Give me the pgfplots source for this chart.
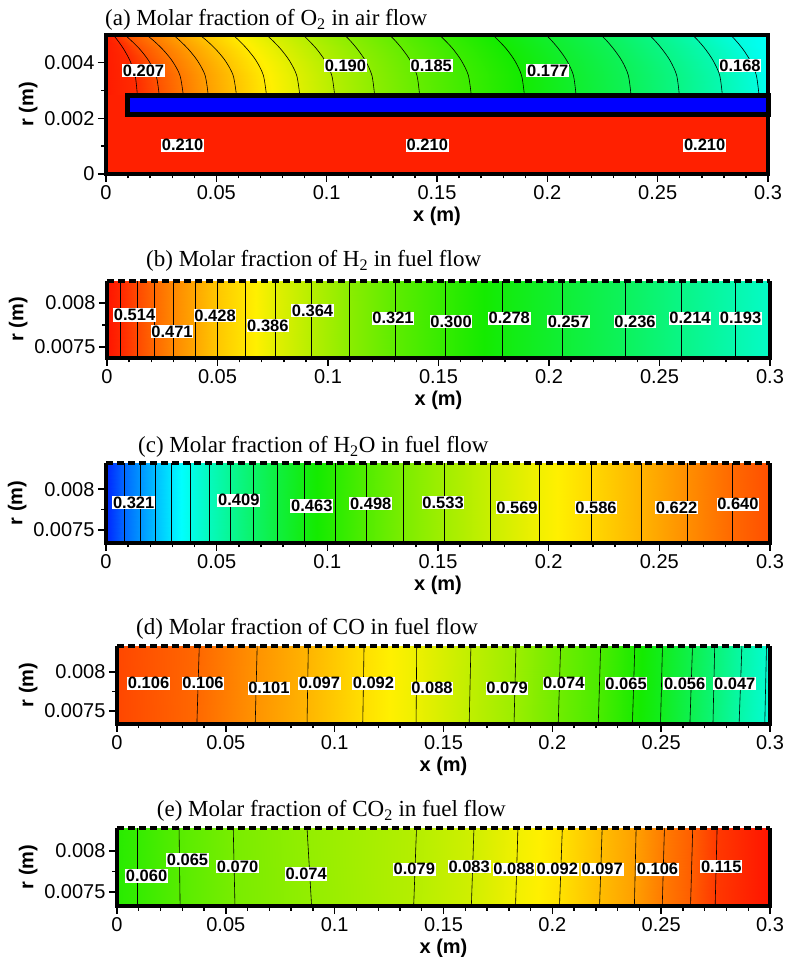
\documentclass[border=0pt]{standalone}
\usepackage{fontspec}
\setmainfont{Liberation Serif}
\setsansfont{Liberation Sans}
\usepackage{pgfplots}
\pgfplotsset{compat=1.18}

\pgfplotsset{
  colormap={cmA}{rgb255(151pt)=(0,0,255) rgb255(166pt)=(0,255,255) rgb255(181pt)=(20,235,0) rgb255(196pt)=(255,240,0) rgb255(211pt)=(255,20,0)},
  colormap={cmB}{rgb255(15pt)=(0,0,255) rgb255(150pt)=(0,255,255) rgb255(285pt)=(20,235,0) rgb255(400pt)=(255,240,0) rgb255(550pt)=(255,20,0)},
  colormap={cmC}{rgb255(260pt)=(0,0,255) rgb255(365pt)=(0,255,255) rgb255(470pt)=(20,235,0) rgb255(575pt)=(255,240,0) rgb255(680pt)=(255,20,0)},
  colormap={cmD}{rgb255(12pt)=(0,0,255) rgb255(38pt)=(0,255,255) rgb255(64pt)=(20,235,0) rgb255(90pt)=(255,240,0) rgb255(116pt)=(255,20,0)},
  colormap={cmE}{rgb255(0pt)=(0,0,255) rgb255(25pt)=(0,255,255) rgb255(55pt)=(20,235,0) rgb255(90pt)=(255,240,0) rgb255(120pt)=(255,20,0)},
  panel/.style={
    scale only axis, clip=false, anchor=south west,
    axis x line*=bottom, axis y line*=left,
    xmin=0, xmax=0.3,
    xtick={0,0.05,0.1,0.15,0.2,0.25,0.3},
    xticklabels={0,0.05,0.1,0.15,0.2,0.25,0.3},
    minor x tick num=4, minor y tick num=1,
    tick align=outside,
    major tick length=8bp, minor tick length=4.5bp,
    every tick/.append style={black, line width=1.4bp},
    axis line style={line width=3bp},
    tick label style={font=\fontsize{20bp}{24bp}\selectfont\sffamily},
    label style={font=\fontsize{20bp}{24bp}\selectfont\sffamily\bfseries},
    xlabel={x (m)}, ylabel={r (m)},
    scaled ticks=false,
  },
  lab/.style={draw=none, nodes near coords, point meta=explicit symbolic,
    nodes near coords align={center},
    every node near coord/.append style={font=\fontsize{16.5bp}{19bp}\selectfont\sffamily\bfseries, fill=white, inner sep=0.7bp, text=black}},
  cline/.style={black, line width=0.6bp},
  fuel/.style={panel, ytick={0.0075,0.008}, yticklabels={0.0075,0.008}},
}
\newcommand\ttl{\fontsize{23bp}{27bp}\selectfont\rmfamily}

\begin{document}
\begin{tikzpicture}
\path[use as bounding box] (0,0) rectangle (786bp,957bp);

% ---------------- (a) ----------------
\begin{axis}[panel, at={(106bp,783bp)}, width=662bp, height=139bp,
  ymin=0, ymax=0.005, ytick={0,0.002,0.004}, yticklabels={0,0.002,0.004},
  colormap name=cmA, point meta min=0.151, point meta max=0.211]
\addplot[draw=none, fill={rgb,255:red,255;green,32;blue,0}] coordinates {(0,0) (0.3,0) (0.3,0.0029) (0,0.0029)} -- cycle;
\addplot[surf, shader=interp, mesh/cols=19, point meta=explicit] table[meta=c] {
x y c
0 0.00285 0.2105
0.0142 0.00285 0.2094
0.0241 0.00285 0.2068
0.0350 0.00285 0.2042
0.0463 0.00285 0.2016
0.0591 0.00285 0.1991
0.0727 0.00285 0.1965
0.0878 0.00285 0.1939
0.1036 0.00285 0.1913
0.1217 0.00285 0.1887
0.1421 0.00285 0.1861
0.1655 0.00285 0.1835
0.1896 0.00285 0.1809
0.2130 0.00285 0.1783
0.2379 0.00285 0.1758
0.2598 0.00285 0.1732
0.2793 0.00285 0.1706
0.2959 0.00285 0.1680
0.3 0.00285 0.1665
0 0.003551 0.2105
0.0132 0.003551 0.2094
0.0227 0.003551 0.2068
0.0335 0.003551 0.2042
0.0449 0.003551 0.2016
0.0576 0.003551 0.1991
0.0713 0.003551 0.1965
0.0864 0.003551 0.1939
0.1023 0.003551 0.1913
0.1205 0.003551 0.1887
0.1409 0.003551 0.1861
0.1642 0.003551 0.1835
0.1883 0.003551 0.1809
0.2118 0.003551 0.1783
0.2367 0.003551 0.1758
0.2586 0.003551 0.1732
0.2781 0.003551 0.1706
0.2947 0.003551 0.1680
0.3 0.003551 0.1665
0 0.004069 0.2105
0.0109 0.004069 0.2094
0.0194 0.004069 0.2068
0.0300 0.004069 0.2042
0.0415 0.004069 0.2016
0.0541 0.004069 0.1991
0.0681 0.004069 0.1965
0.0832 0.004069 0.1939
0.0993 0.004069 0.1913
0.1176 0.004069 0.1887
0.1380 0.004069 0.1861
0.1611 0.004069 0.1835
0.1853 0.004069 0.1809
0.2089 0.004069 0.1783
0.2338 0.004069 0.1758
0.2557 0.004069 0.1732
0.2752 0.004069 0.1706
0.2920 0.004069 0.1680
0.3 0.004069 0.1665
0 0.0044825 0.2105
0.0081 0.0044825 0.2094
0.0154 0.0044825 0.2068
0.0257 0.0044825 0.2042
0.0374 0.0044825 0.2016
0.0498 0.0044825 0.1991
0.0641 0.0044825 0.1965
0.0793 0.0044825 0.1939
0.0956 0.0044825 0.1913
0.1140 0.0044825 0.1887
0.1344 0.0044825 0.1861
0.1574 0.0044825 0.1835
0.1816 0.0044825 0.1809
0.2053 0.0044825 0.1783
0.2302 0.0044825 0.1758
0.2521 0.0044825 0.1732
0.2717 0.0044825 0.1706
0.2887 0.0044825 0.1680
0.3 0.0044825 0.1665
0 0.004793 0.2105
0.0054 0.004793 0.2094
0.0115 0.004793 0.2068
0.0216 0.004793 0.2042
0.0335 0.004793 0.2016
0.0457 0.004793 0.1991
0.0604 0.004793 0.1965
0.0756 0.004793 0.1939
0.0920 0.004793 0.1913
0.1107 0.004793 0.1887
0.1311 0.004793 0.1861
0.1538 0.004793 0.1835
0.1780 0.004793 0.1809
0.2020 0.004793 0.1783
0.2269 0.004793 0.1758
0.2488 0.004793 0.1732
0.2684 0.004793 0.1706
0.2855 0.004793 0.1680
0.3 0.004793 0.1665
0 0.005 0.2105
0.0033 0.005 0.2094
0.0086 0.005 0.2068
0.0184 0.005 0.2042
0.0305 0.005 0.2016
0.0425 0.005 0.1991
0.0575 0.005 0.1965
0.0727 0.005 0.1939
0.0893 0.005 0.1913
0.1081 0.005 0.1887
0.1285 0.005 0.1861
0.1511 0.005 0.1835
0.1753 0.005 0.1809
0.1994 0.005 0.1783
0.2243 0.005 0.1758
0.2462 0.005 0.1732
0.2658 0.005 0.1706
0.2831 0.005 0.1680
0.3 0.005 0.1665
};
\addplot[cline, smooth, unbounded coords=jump] coordinates {
(0.0142,0.00285) (0.0132,0.003551) (0.0109,0.004069) (0.0081,0.0044825) (0.0054,0.004793) (0.0033,0.005) (nan,nan)
(0.0241,0.00285) (0.0227,0.003551) (0.0194,0.004069) (0.0154,0.0044825) (0.0115,0.004793) (0.0086,0.005) (nan,nan)
(0.0350,0.00285) (0.0335,0.003551) (0.0300,0.004069) (0.0257,0.0044825) (0.0216,0.004793) (0.0184,0.005) (nan,nan)
(0.0463,0.00285) (0.0449,0.003551) (0.0415,0.004069) (0.0374,0.0044825) (0.0335,0.004793) (0.0305,0.005) (nan,nan)
(0.0591,0.00285) (0.0576,0.003551) (0.0541,0.004069) (0.0498,0.0044825) (0.0457,0.004793) (0.0425,0.005) (nan,nan)
(0.0727,0.00285) (0.0713,0.003551) (0.0681,0.004069) (0.0641,0.0044825) (0.0604,0.004793) (0.0575,0.005) (nan,nan)
(0.0878,0.00285) (0.0864,0.003551) (0.0832,0.004069) (0.0793,0.0044825) (0.0756,0.004793) (0.0727,0.005) (nan,nan)
(0.1036,0.00285) (0.1023,0.003551) (0.0993,0.004069) (0.0956,0.0044825) (0.0920,0.004793) (0.0893,0.005) (nan,nan)
(0.1217,0.00285) (0.1205,0.003551) (0.1176,0.004069) (0.1140,0.0044825) (0.1107,0.004793) (0.1081,0.005) (nan,nan)
(0.1421,0.00285) (0.1409,0.003551) (0.1380,0.004069) (0.1344,0.0044825) (0.1311,0.004793) (0.1285,0.005) (nan,nan)
(0.1655,0.00285) (0.1642,0.003551) (0.1611,0.004069) (0.1574,0.0044825) (0.1538,0.004793) (0.1511,0.005) (nan,nan)
(0.1896,0.00285) (0.1883,0.003551) (0.1853,0.004069) (0.1816,0.0044825) (0.1780,0.004793) (0.1753,0.005) (nan,nan)
(0.2130,0.00285) (0.2118,0.003551) (0.2089,0.004069) (0.2053,0.0044825) (0.2020,0.004793) (0.1994,0.005) (nan,nan)
(0.2379,0.00285) (0.2367,0.003551) (0.2338,0.004069) (0.2302,0.0044825) (0.2269,0.004793) (0.2243,0.005) (nan,nan)
(0.2598,0.00285) (0.2586,0.003551) (0.2557,0.004069) (0.2521,0.0044825) (0.2488,0.004793) (0.2462,0.005) (nan,nan)
(0.2793,0.00285) (0.2781,0.003551) (0.2752,0.004069) (0.2717,0.0044825) (0.2684,0.004793) (0.2658,0.005) (nan,nan)
(0.2959,0.00285) (0.2947,0.003551) (0.2920,0.004069) (0.2887,0.0044825) (0.2855,0.004793) (0.2831,0.005)
};
\addplot[fill={rgb,255:red,0;green,0;blue,255}, draw=black, line width=5bp] coordinates {(0.0098,0.00213) (0.3,0.00213) (0.3,0.00281) (0.0098,0.00281)} -- cycle;
\addplot[lab] table[meta=l] {
x y l
0.017 0.00371 0.207
0.1085 0.00389 0.190
0.1474 0.00389 0.185
0.2002 0.00371 0.177
0.2873 0.00389 0.168
0.0347 0.001036 0.210
0.1456 0.001036 0.210
0.2713 0.001036 0.210
};
\draw[line width=3.2bp, line join=miter] (rel axis cs:0,0) -- (rel axis cs:1,0) -- (rel axis cs:1,1) -- (rel axis cs:0,1) -- cycle;
\end{axis}

% ---------------- (b) ----------------
\begin{axis}[fuel, at={(107bp,599bp)}, width=663bp, height=77bp,
  ymin=0.007375, ymax=0.00825,
  colormap name=cmB, point meta min=0.015, point meta max=0.55]
\addplot[surf, shader=interp, mesh/cols=19, point meta=explicit] table[meta=c] {
x y c
0 0.007375 0.550
0.0062 0.007375 0.536
0.0137 0.007375 0.514
0.0213 0.007375 0.493
0.0300 0.007375 0.471
0.0398 0.007375 0.450
0.0499 0.007375 0.428
0.0627 0.007375 0.407
0.0761 0.007375 0.386
0.0926 0.007375 0.364
0.1096 0.007375 0.343
0.1303 0.007375 0.321
0.1533 0.007375 0.300
0.1789 0.007375 0.278
0.2062 0.007375 0.257
0.2344 0.007375 0.236
0.2600 0.007375 0.214
0.2842 0.007375 0.193
0.3 0.007375 0.180
0 0.00825 0.550
0.0062 0.00825 0.536
0.0137 0.00825 0.514
0.0213 0.00825 0.493
0.0300 0.00825 0.471
0.0398 0.00825 0.450
0.0499 0.00825 0.428
0.0627 0.00825 0.407
0.0761 0.00825 0.386
0.0926 0.00825 0.364
0.1096 0.00825 0.343
0.1303 0.00825 0.321
0.1533 0.00825 0.300
0.1789 0.00825 0.278
0.2062 0.00825 0.257
0.2344 0.00825 0.236
0.2600 0.00825 0.214
0.2842 0.00825 0.193
0.3 0.00825 0.180
};
\addplot[cline, quiver={u=\thisrow{u}, v=\thisrow{v}}] table {
x y u v
0.0062 0.007375 0 0.000875
0.0137 0.007375 0 0.000875
0.0213 0.007375 0 0.000875
0.0300 0.007375 0 0.000875
0.0398 0.007375 0 0.000875
0.0499 0.007375 0 0.000875
0.0627 0.007375 0 0.000875
0.0761 0.007375 0 0.000875
0.0926 0.007375 0 0.000875
0.1096 0.007375 0 0.000875
0.1303 0.007375 0 0.000875
0.1533 0.007375 0 0.000875
0.1789 0.007375 0 0.000875
0.2062 0.007375 0 0.000875
0.2344 0.007375 0 0.000875
0.2600 0.007375 0 0.000875
0.2842 0.007375 0 0.000875
};
\addplot[lab] table[meta=l] {
x y l
0.0125 0.007864 0.514
0.0294 0.007674 0.471
0.0489 0.007856 0.428
0.0728 0.007742 0.386
0.0930 0.007913 0.364
0.1294 0.007826 0.321
0.1557 0.007788 0.300
0.1820 0.007826 0.278
0.2088 0.007788 0.257
0.2389 0.007788 0.236
0.2638 0.007826 0.214
0.2867 0.007826 0.193
};
\draw[line width=3.2bp, line join=miter] (rel axis cs:0,1) -- (rel axis cs:0,0) -- (rel axis cs:1,0) -- (rel axis cs:1,1);
\draw[line width=4bp, dash pattern=on 7bp off 4bp] (rel axis cs:0,1) -- (rel axis cs:1,1);
\end{axis}

% ---------------- (c) ----------------
\begin{axis}[fuel, at={(106bp,414bp)}, width=664bp, height=80bp,
  ymin=0.00734, ymax=0.00832,
  colormap name=cmC, point meta min=0.26, point meta max=0.68]
\addplot[surf, shader=interp, mesh/cols=22, point meta=explicit] table[meta=c] {
x y c
0 0.00734 0.275
0.00827 0.00734 0.303
0.01536 0.00734 0.321
0.02214 0.00734 0.338
0.0297 0.00734 0.356
0.0380 0.00734 0.374
0.0465 0.00734 0.392
0.0560 0.00734 0.409
0.0666 0.00734 0.427
0.0776 0.00734 0.445
0.0895 0.00734 0.463
0.1035 0.00734 0.480
0.1178 0.00734 0.498
0.1343 0.00734 0.516
0.1527 0.00734 0.533
0.1738 0.00734 0.551
0.1956 0.00734 0.569
0.2191 0.00734 0.586
0.2420 0.00734 0.604
0.2628 0.00734 0.622
0.2831 0.00734 0.640
0.3 0.00734 0.652
0 0.00832 0.275
0.00827 0.00832 0.303
0.01536 0.00832 0.321
0.02214 0.00832 0.338
0.0297 0.00832 0.356
0.0380 0.00832 0.374
0.0465 0.00832 0.392
0.0560 0.00832 0.409
0.0666 0.00832 0.427
0.0776 0.00832 0.445
0.0895 0.00832 0.463
0.1035 0.00832 0.480
0.1178 0.00832 0.498
0.1343 0.00832 0.516
0.1527 0.00832 0.533
0.1738 0.00832 0.551
0.1956 0.00832 0.569
0.2191 0.00832 0.586
0.2420 0.00832 0.604
0.2628 0.00832 0.622
0.2831 0.00832 0.640
0.3 0.00832 0.652
};
\addplot[cline, quiver={u=\thisrow{u}, v=\thisrow{v}}] table {
x y u v
0.00827 0.00734 0 0.00098
0.01536 0.00734 0 0.00098
0.02214 0.00734 0 0.00098
0.0297 0.00734 0 0.00098
0.0380 0.00734 0 0.00098
0.0465 0.00734 0 0.00098
0.0560 0.00734 0 0.00098
0.0666 0.00734 0 0.00098
0.0776 0.00734 0 0.00098
0.0895 0.00734 0 0.00098
0.1035 0.00734 0 0.00098
0.1178 0.00734 0 0.00098
0.1343 0.00734 0 0.00098
0.1527 0.00734 0 0.00098
0.1738 0.00734 0 0.00098
0.1956 0.00734 0 0.00098
0.2191 0.00734 0 0.00098
0.2420 0.00734 0 0.00098
0.2628 0.00734 0 0.00098
0.2831 0.00734 0 0.00098
};
\addplot[lab] table[meta=l] {
x y l
0.0125 0.007833 0.321
0.0600 0.007866 0.409
0.0930 0.007793 0.463
0.1196 0.007826 0.498
0.1523 0.007833 0.533
0.1857 0.007777 0.569
0.2214 0.007777 0.586
0.2578 0.007777 0.622
0.2855 0.007817 0.640
};
\draw[line width=3.2bp, line join=miter] (rel axis cs:0,1) -- (rel axis cs:0,0) -- (rel axis cs:1,0) -- (rel axis cs:1,1);
\draw[line width=4bp, dash pattern=on 7bp off 4bp] (rel axis cs:0,1) -- (rel axis cs:1,1);
\end{axis}

% ---------------- (d) ----------------
\begin{axis}[fuel, at={(117bp,233bp)}, width=653bp, height=78bp,
  ymin=0.007333, ymax=0.008333,
  colormap name=cmD, point meta min=0.012, point meta max=0.116]
\addplot[surf, shader=interp, mesh/cols=17, point meta=explicit] table[meta=c] {
x y c
0 0.007333 0.110
0.0367 0.007333 0.106
0.0635 0.007333 0.101
0.0873 0.007333 0.097
0.1129 0.007333 0.092
0.1374 0.007333 0.088
0.1618 0.007333 0.083
0.1824 0.007333 0.079
0.2027 0.007333 0.074
0.2211 0.007333 0.070
0.2368 0.007333 0.065
0.2497 0.007333 0.061
0.2632 0.007333 0.056
0.2738 0.007333 0.052
0.2858 0.007333 0.047
0.2976 0.007333 0.043
0.3 0.007333 0.041
0 0.008333 0.110
0.0378 0.008333 0.106
0.0644 0.008333 0.101
0.0879 0.008333 0.097
0.1135 0.008333 0.092
0.1377 0.008333 0.088
0.1626 0.008333 0.083
0.1833 0.008333 0.079
0.2038 0.008333 0.074
0.2222 0.008333 0.070
0.2379 0.008333 0.065
0.2506 0.008333 0.061
0.2644 0.008333 0.056
0.2746 0.008333 0.052
0.2871 0.008333 0.047
0.2984 0.008333 0.043
0.3 0.008333 0.041
};
\addplot[cline, quiver={u=\thisrow{u}, v=\thisrow{v}}] table {
x y u v
0.0367 0.007333 0.0011 0.001
0.0635 0.007333 0.0009 0.001
0.0873 0.007333 0.0006 0.001
0.1129 0.007333 0.0006 0.001
0.1374 0.007333 0.0003 0.001
0.1618 0.007333 0.0008 0.001
0.1824 0.007333 0.0009 0.001
0.2027 0.007333 0.0011 0.001
0.2211 0.007333 0.0011 0.001
0.2368 0.007333 0.0011 0.001
0.2497 0.007333 0.0009 0.001
0.2632 0.007333 0.0012 0.001
0.2738 0.007333 0.0008 0.001
0.2858 0.007333 0.0013 0.001
0.2976 0.007333 0.0008 0.001
};
\addplot[lab] table[meta=l] {
x y l
0.0145 0.007855 0.106
0.0395 0.007855 0.106
0.0698 0.007791 0.101
0.0930 0.007855 0.097
0.1178 0.007855 0.092
0.1447 0.007791 0.088
0.1792 0.007791 0.079
0.2053 0.007855 0.074
0.2339 0.007849 0.065
0.2608 0.007849 0.056
0.2838 0.007849 0.047
};
\draw[line width=3.2bp, line join=miter] (rel axis cs:0,1) -- (rel axis cs:0,0) -- (rel axis cs:1,0) -- (rel axis cs:1,1);
\draw[line width=4bp, dash pattern=on 7bp off 4bp] (rel axis cs:0,1) -- (rel axis cs:1,1);
\end{axis}

% ---------------- (e) ----------------
\begin{axis}[fuel, at={(117bp,51bp)}, width=653bp, height=78bp,
  ymin=0.00733, ymax=0.00828,
  colormap name=cmE, point meta min=0, point meta max=0.12]
\addplot[surf, shader=interp, mesh/cols=15, point meta=explicit] table[meta=c] {
x y c
0 0.00733 0.058
0.0095 0.00733 0.060
0.0290 0.00733 0.065
0.0542 0.00733 0.070
0.0894 0.00733 0.074
0.1363 0.00733 0.079
0.1628 0.00733 0.083
0.1831 0.00733 0.088
0.2033 0.00733 0.092
0.2217 0.00733 0.097
0.2377 0.00733 0.101
0.2505 0.00733 0.106
0.2635 0.00733 0.110
0.2748 0.00733 0.115
0.3 0.00733 0.121
0 0.00828 0.058
0.0095 0.00828 0.060
0.0285 0.00828 0.065
0.0534 0.00828 0.070
0.0873 0.00828 0.074
0.1376 0.00828 0.079
0.1640 0.00828 0.083
0.1842 0.00828 0.088
0.2046 0.00828 0.092
0.2229 0.00828 0.097
0.2385 0.00828 0.101
0.2515 0.00828 0.106
0.2645 0.00828 0.110
0.2757 0.00828 0.115
0.3 0.00828 0.121
};
\addplot[cline, quiver={u=\thisrow{u}, v=\thisrow{v}}] table {
x y u v
0.0095 0.00733 0 0.00095
0.0290 0.00733 -0.0005 0.00095
0.0542 0.00733 -0.0008 0.00095
0.0894 0.00733 -0.0021 0.00095
0.1363 0.00733 0.0013 0.00095
0.1628 0.00733 0.0012 0.00095
0.1831 0.00733 0.0011 0.00095
0.2033 0.00733 0.0013 0.00095
0.2217 0.00733 0.0012 0.00095
0.2377 0.00733 0.0008 0.00095
0.2505 0.00733 0.0010 0.00095
0.2635 0.00733 0.0010 0.00095
0.2748 0.00733 0.0009 0.00095
};
\addplot[lab] table[meta=l] {
x y l
0.0136 0.007695 0.060
0.0324 0.007890 0.065
0.0554 0.007809 0.070
0.0869 0.007720 0.074
0.1366 0.007777 0.079
0.1618 0.007809 0.083
0.1824 0.007777 0.088
0.2023 0.007777 0.092
0.2229 0.007777 0.097
0.2483 0.007777 0.106
0.2776 0.007809 0.115
};
\draw[line width=3.2bp, line join=miter] (rel axis cs:0,1) -- (rel axis cs:0,0) -- (rel axis cs:1,0) -- (rel axis cs:1,1);
\draw[line width=4bp, dash pattern=on 7bp off 4bp] (rel axis cs:0,1) -- (rel axis cs:1,1);
\end{axis}

% titles
\node[anchor=base west, font=\ttl, inner sep=0pt] at (105bp,931bp) {(a) Molar fraction of O\textsubscript{2} in air flow};
\node[anchor=base west, font=\ttl, inner sep=0pt] at (146bp,690.3bp) {(b) Molar fraction of H\textsubscript{2} in fuel flow};
\node[anchor=base west, font=\ttl, inner sep=0pt] at (138bp,504bp) {(c) Molar fraction of H\textsubscript{2}O in fuel flow};
\node[anchor=base west, font=\ttl, inner sep=0pt] at (136bp,322bp) {(d) Molar fraction of CO in fuel flow};
\node[anchor=base west, font=\ttl, inner sep=0pt] at (156.7bp,140.3bp) {(e) Molar fraction of CO\textsubscript{2} in fuel flow};
\end{tikzpicture}
\end{document}
